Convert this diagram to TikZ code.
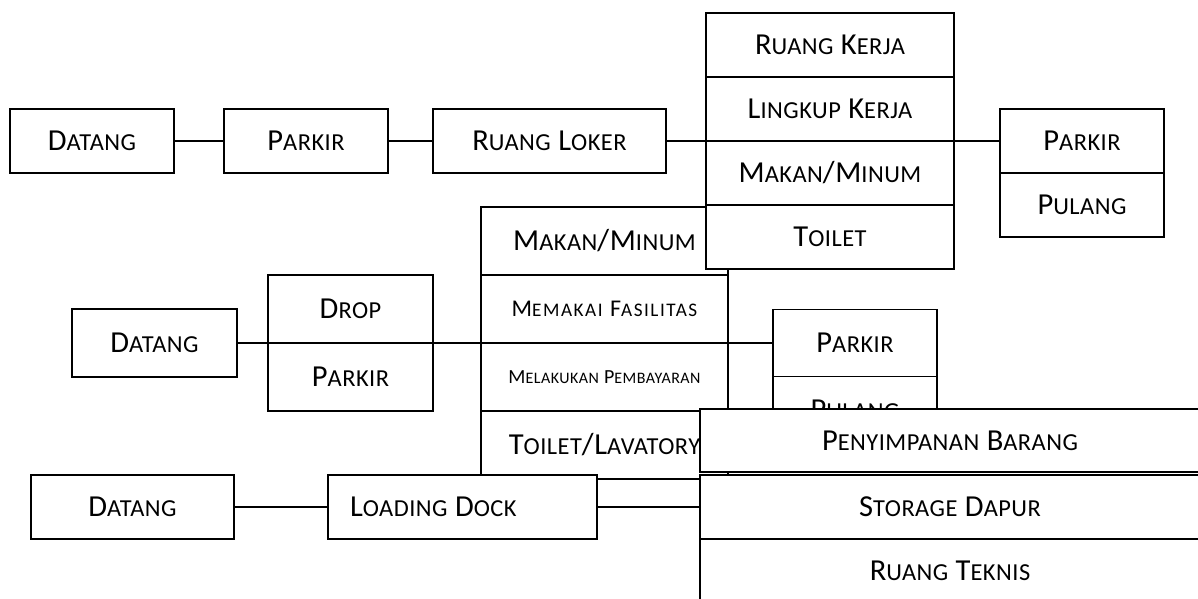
\documentclass[tikz,border=0pt]{standalone}
\usepackage{fontspec}
\setmainfont{Carlito}
\usetikzlibrary{positioning}
\makeatletter
\newcommand{\lsc}[1]{{\dimen@=\f@size pt\dimen@=0.8\dimen@
    \fontsize{\strip@pt\dimen@}{\f@baselineskip}\selectfont\MakeUppercase{#1}}}
\makeatother
\tikzset{
    block/.style = {draw, rectangle, fill=white, line width=1.6pt,
        outer sep=0pt, inner sep=2pt,
        minimum height=64pt, align=center,
        text height=19.5pt, text depth=0pt,
        font=\fontsize{30.5}{34}\selectfont\addfontfeature{LetterSpace=2}},
    smalltext/.style = {font=\fontsize{24}{27}\selectfont\addfontfeature{LetterSpace=8}, text height=15.5pt},
    tinytext/.style = {font=\fontsize{20}{23}\selectfont\addfontfeature{LetterSpace=3}, text height=13pt},
    line/.style = {draw, line width=1.6pt}
}

\begin{document}
\begin{tikzpicture}[x=1pt, y=-1pt, node distance=0pt]
    \useasboundingbox (0,0) rectangle (1198,599);
        \node [block, minimum width=164pt] (datA) at (92,141) {D\lsc{atang}};
        \node [block, minimum width=164pt, right=50pt of datA] (parkA) {P\lsc{arkir}};
        \node [block, minimum width=233pt, right=45pt of parkA] (loker) {R\lsc{uang} L\lsc{oker}};
        \node [block, minimum width=247pt, minimum height=68pt] (makanC) at (604.5,241) {M\lsc{akan}/M\lsc{inum}};
        \node [block, minimum width=247pt, minimum height=68pt, smalltext, below=of makanC] (fasil) {M\lsc{emakai} F\lsc{asilitas}};
        \node [block, minimum width=247pt, minimum height=68pt, tinytext, below=of fasil] (bayar) {M\lsc{elakukan} P\lsc{embayaran}};
        \node [block, minimum width=247pt, minimum height=68pt, below=of bayar] (lavat) {T\lsc{oilet}/L\lsc{avatory}};
        \node [block, minimum width=248pt] (kerja) at (830,45) {R\lsc{uang} K\lsc{erja}};
        \node [block, minimum width=248pt, below=of kerja] (lingkup) {L\lsc{ingkup} K\lsc{erja}};
        \node [block, minimum width=248pt, below=of lingkup] (makanA) {M\lsc{akan}/M\lsc{inum}};
        \node [block, minimum width=248pt, below=of makanA] (toiletA) {T\lsc{oilet}};
        \node [block, minimum width=164pt] (parkB) at (1082,141) {P\lsc{arkir}};
        \node [block, minimum width=164pt, below=of parkB] (pulangB) {P\lsc{ulang}};
        \node [block, minimum width=165pt, minimum height=68pt] (datB) at (154.5,343) {D\lsc{atang}};
        \node [block, minimum width=165pt, minimum height=68pt] (drop) at (350.5,309) {D\lsc{rop}};
        \node [block, minimum width=165pt, minimum height=68pt, below=of drop] (parkC) {P\lsc{arkir}};
        \node [block, minimum width=164pt, minimum height=67pt] (parkD) at (855,343) {P\lsc{arkir}};
        \node [block, minimum width=164pt, minimum height=67pt, below=of parkD] (pulangD) {P\lsc{ulang}};
        \node [block, minimum width=203pt] (datD) at (132.5,507) {D\lsc{atang}};
        \node [block, text width=225pt, inner xsep=22pt, align=flush left] (dock) at (462.5,507) {L\lsc{oading} D\lsc{ock}};
        \node [block, minimum width=500pt] (storage) at (950,507) {S\lsc{torage} D\lsc{apur}};
        \node [block, minimum width=500pt, minimum height=63pt, above=3pt of storage] (simpan) {P\lsc{enyimpanan} B\lsc{arang}};
        \node [block, minimum width=500pt, below=of storage] (teknis) {R\lsc{uang} T\lsc{eknis}};
        \draw [line] (datA) -- (parkA);
        \draw [line] (parkA) -- (loker);
        \draw [line] (loker.east) -- (lingkup.south west);
        \draw [line] (lingkup.south east) -- (parkB.west);
        \draw [line] (datB.east) -- (drop.south west);
        \draw [line] (drop.south east) -- (fasil.south west);
        \draw [line] (fasil.south east) -- (parkD.west);
        \draw [line] (datD) -- (dock);
        \draw [line] (dock) -- (storage);
\end{tikzpicture}
\end{document}
